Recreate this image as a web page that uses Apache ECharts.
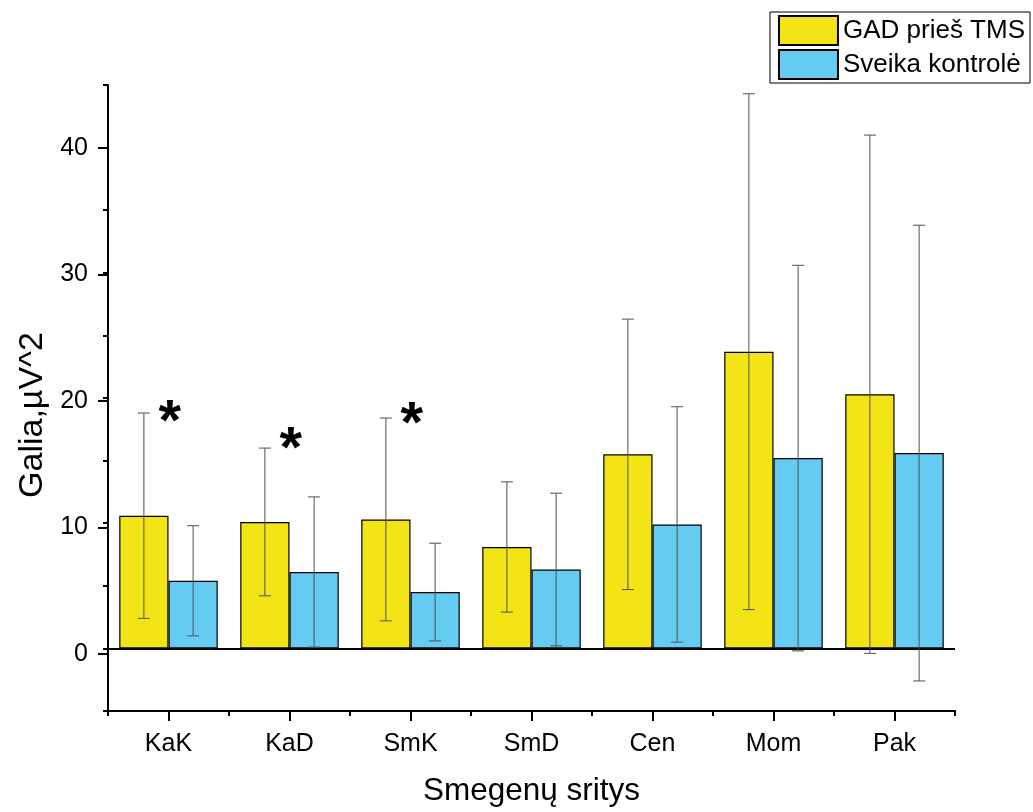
<!DOCTYPE html>
<html>
<head>
<meta charset="utf-8">
<script src="https://cdn.jsdelivr.net/npm/echarts@6/dist/echarts.min.js"></script>
<style>
  html, body { margin: 0; padding: 0; background: #fff; }
  #chart { width: 1033px; height: 812px; }
</style>
</head>
<body>
<div id="chart"></div>
<script>
var categories = ['KaK', 'KaD', 'SmK', 'SmD', 'Cen', 'Mom', 'Pak'];
var gadMean = [10.6, 10.1, 10.3, 8.1, 15.5, 23.7, 20.3];
var gadSd = [8.2, 5.9, 8.1, 5.2, 10.8, 20.6, 20.7];
var ctrlMean = [5.4, 6.1, 4.5, 6.3, 9.9, 15.2, 15.6];
var ctrlSd = [4.4, 6.0, 3.9, 6.1, 9.4, 15.4, 18.2];
// asterisk height (data units) for the significant pairs, null = none
var starAt = [18.9, 16.7, 18.7, null, null, null, null];

var FONT = '"Liberation Sans", Arial, sans-serif';
var CAT_GAP = 0.186;
var GRID_TOP = 85, GRID_BOTTOM = 95, Y_MIN = -5, Y_MAX = 45;
var plotH = 812 - GRID_TOP - GRID_BOTTOM;

function errData(mean, sd, stars) {
    var out = [];
    for (var i = 0; i < mean.length; i++) {
        out.push([i, mean[i], sd[i], stars ? stars[i] : null]);
    }
    return out;
}

function errRender(side) {
    return function (params, api) {
        var i = api.value(0), m = api.value(1), sd = api.value(2), star = api.value(3);
        var band = api.size([1, 0])[0];
        var barW = band * (1 - CAT_GAP) / 2;
        var x = api.coord([i, m])[0] + side * barW / 2;
        var hi = api.coord([i, m + sd])[1];
        var lo = api.coord([i, m - sd])[1];
        var st = {stroke: '#505050', lineWidth: 1};
        var kids = [
            {type: 'line', shape: {x1: x, y1: hi, x2: x, y2: lo}, style: st},
            {type: 'line', shape: {x1: x - 6, y1: hi, x2: x + 6, y2: hi}, style: st},
            {type: 'line', shape: {x1: x - 6, y1: lo, x2: x + 6, y2: lo}, style: st}
        ];
        if (star != null && !isNaN(star)) {
            var sy = api.coord([i, star])[1];
            kids.push({type: 'text', style: {text: '*', x: x + 26, y: sy + 12,
                font: 'bold 58px ' + FONT, fill: '#000', align: 'center', verticalAlign: 'middle'}});
        }
        return {type: 'group', children: kids};
    };
}

var majorTop = GRID_TOP + (Y_MAX - 40) / (Y_MAX - Y_MIN) * plotH;
var majorBottom = GRID_BOTTOM + (0 - Y_MIN) / (Y_MAX - Y_MIN) * plotH;

var myChart = echarts.init(document.getElementById('chart'));
myChart.setOption({
    animation: false,
    textStyle: {fontFamily: FONT},
    legend: {
        orient: 'vertical', right: 3, top: 12,
        itemWidth: 59, itemHeight: 29, itemGap: 3,
        padding: [3, 5, 3, 8],
        borderColor: '#000', borderWidth: 1,
        textStyle: {fontSize: 26, color: '#000', fontFamily: FONT},
        data: [{name: 'GAD prieš TMS', icon: 'rect'}, {name: 'Sveika kontrolė', icon: 'rect'}]
    },
    grid: [
        {left: 108, right: 78, top: GRID_TOP, bottom: GRID_BOTTOM},
        {left: 108, right: 78, top: majorTop, bottom: majorBottom}
    ],
    xAxis: [
        {
            type: 'category', data: categories, gridIndex: 0,
            name: 'Smegenų sritys', nameLocation: 'middle', nameGap: 64,
            nameTextStyle: {fontSize: 31.5, color: '#000', fontFamily: FONT},
            axisLine: {show: true, onZero: false, lineStyle: {color: '#000', width: 2}},
            axisTick: {show: true, alignWithLabel: true, length: 10, lineStyle: {color: '#000', width: 2}},
            axisLabel: {fontSize: 25, color: '#000', margin: 21, fontFamily: FONT}
        },
        {
            type: 'category', data: categories, gridIndex: 0, position: 'bottom',
            axisLine: {show: false, onZero: false},
            axisTick: {show: true, length: 5, lineStyle: {color: '#000', width: 2}},
            axisLabel: {show: false}
        },
        {
            type: 'category', data: categories, gridIndex: 1, show: false
        }
    ],
    yAxis: [
        {
            type: 'value', gridIndex: 0, min: Y_MIN, max: Y_MAX, interval: 5,
            name: 'Galia,µV^2', nameLocation: 'middle', nameGap: 58,
            nameTextStyle: {fontSize: 34, color: '#000', fontFamily: FONT, padding: [0, 34, 0, 0]},
            axisLine: {show: true, lineStyle: {color: '#000', width: 2}},
            axisTick: {show: true, length: 5, lineStyle: {color: '#000', width: 2}},
            axisLabel: {show: false},
            splitLine: {show: false}
        },
        {
            type: 'value', gridIndex: 1, min: 0, max: 40, interval: 10,
            axisLine: {show: false},
            axisTick: {show: true, length: 10, lineStyle: {color: '#000', width: 2}},
            axisLabel: {fontSize: 25, color: '#000', margin: 20, fontFamily: FONT},
            splitLine: {show: false}
        }
    ],
    series: [
        {
            name: 'GAD prieš TMS', type: 'bar', data: gadMean,
            barGap: 0, barCategoryGap: (CAT_GAP * 100) + '%',
            itemStyle: {color: '#f3e416', borderColor: '#000', borderWidth: 1.2},
            markLine: {
                silent: true, symbol: 'none', label: {show: false},
                lineStyle: {color: '#000', width: 2, type: 'solid'},
                data: [{yAxis: 0}]
            }
        },
        {
            name: 'Sveika kontrolė', type: 'bar', data: ctrlMean,
            barGap: 0, barCategoryGap: (CAT_GAP * 100) + '%',
            itemStyle: {color: '#66cbf2', borderColor: '#000', borderWidth: 1.2}
        },
        {
            type: 'custom', data: errData(gadMean, gadSd, starAt), z: 5,
            encode: {x: 0, y: 1}, renderItem: errRender(-1)
        },
        {
            type: 'custom', data: errData(ctrlMean, ctrlSd, null), z: 5,
            encode: {x: 0, y: 1}, renderItem: errRender(1)
        }
    ]
});
</script>
</body>
</html>
